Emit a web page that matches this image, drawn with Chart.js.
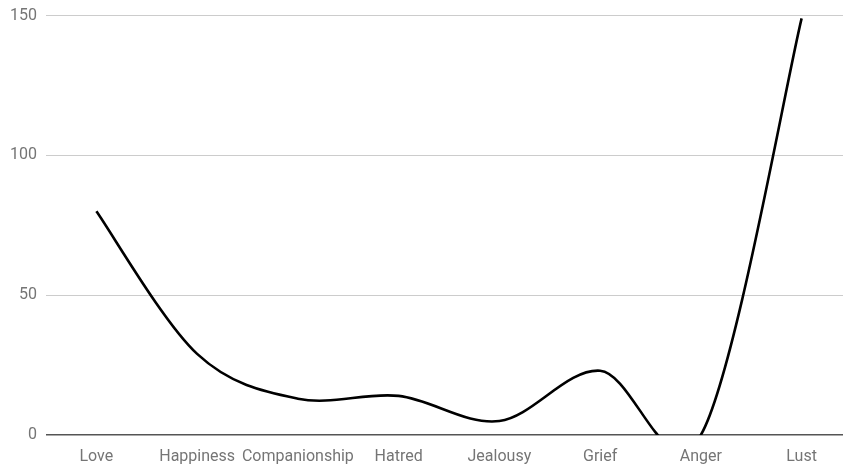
<!DOCTYPE html>
<html>
<head>
<meta charset="utf-8">
<script src="https://cdn.jsdelivr.net/npm/chart.js@4"></script>
<style>
  html, body { margin: 0; padding: 0; background: #fff; overflow: hidden; }
  #wrap { position: relative; top: -3px; width: 852px; height: 471px; }
</style>
</head>
<body>
<div id="wrap"><canvas id="chart"></canvas></div>
<script>
const categories = ['Love', 'Happiness', 'Companionship', 'Hatred', 'Jealousy', 'Grief', 'Anger', 'Lust'];
const values = [80, 29, 13, 14, 5, 23, 0, 149];
const yTicks = [0, 50, 100, 150];

// Smooth the line as a uniform Catmull-Rom spline through the drawn points.
const catmullRom = {
  id: 'catmullRom',
  beforeDatasetDraw(chart, args) {
    const meta = args.meta;
    const line = meta.dataset;
    line.updateControlPoints(chart.chartArea, 'x');
    const pts = meta.data;
    const n = pts.length;
    for (let i = 0; i < n; i++) {
      const p = pts[i];
      const prev = pts[Math.max(i - 1, 0)];
      const next = pts[Math.min(i + 1, n - 1)];
      const tx = (next.x - prev.x) / 2;
      const ty = (next.y - prev.y) / 2;
      p.cp1x = p.x - tx / 3; p.cp1y = p.y - ty / 3;
      p.cp2x = p.x + tx / 3; p.cp2y = p.y + ty / 3;
    }
    line._path = undefined;
  }
};

new Chart(document.getElementById('chart'), {
  type: 'line',
  data: {
    labels: categories,
    datasets: [{
      data: values,
      borderColor: '#000',
      borderWidth: 2.6,
      pointRadius: 0,
      pointHoverRadius: 0,
      tension: 0.4,
      fill: false,
      clip: 0
    }]
  },
  options: {
    responsive: true,
    maintainAspectRatio: false,
    animation: false,
    events: [],
    layout: { padding: { top: 12, right: 0, bottom: 0, left: 0 } },
    plugins: { legend: { display: false }, tooltip: { enabled: false } },
    scales: {
      x: {
        offset: true,
        grid: { display: false, drawTicks: false },
        border: { display: false },
        ticks: {
          color: '#757575',
          font: { family: 'Roboto', size: 16 },
          padding: 12,
          autoSkip: false,
          maxRotation: 0
        },
        afterFit(scale) { scale.height = 33; }
      },
      y: {
        min: 0,
        max: 150,
        afterBuildTicks(scale) { scale.ticks = yTicks.map(v => ({ value: v })); },
        grid: {
          drawTicks: false,
          color: ctx => (ctx.tick && ctx.tick.value === 0 ? '#555' : '#cccccc'),
          lineWidth: ctx => (ctx.tick && ctx.tick.value === 0 ? 1.5 : 1)
        },
        border: { display: false },
        ticks: {
          color: '#757575',
          font: { family: 'Roboto', size: 16 },
          padding: 9
        },
        afterFit(scale) { scale.width = 46; }
      }
    }
  },
  plugins: [catmullRom]
});
</script>
</body>
</html>
